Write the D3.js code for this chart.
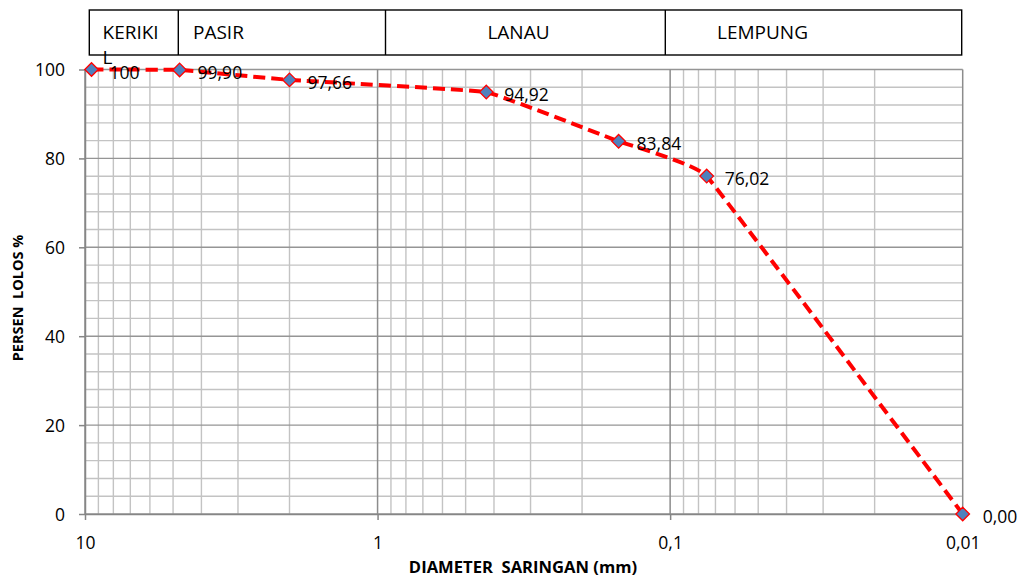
<!DOCTYPE html>
<html>
<head>
<meta charset="utf-8">
<script src="https://cdn.jsdelivr.net/npm/d3@7"></script>
<style>
  html, body { margin: 0; padding: 0; background: #ffffff; }
  svg { display: block; font-family: "Open Sans", "Noto Sans", sans-serif; }
</style>
</head>
<body>
<svg id="chart" width="1021" height="577"></svg>
<script>
// ---- data ----
const diameters = [9.5, 4.75, 2.0, 0.425, 0.15, 0.075, 0.01];
const percents  = [100, 99.90, 97.66, 94.92, 83.84, 76.02, 0.00];
const pointLabels = ["100", "99,90", "97,66", "94,92", "83,84", "76,02", "0,00"];
const xTickValues = [10, 1, 0.1, 0.01];
const xTickLabels = ["10", "1", "0,1", "0,01"];
const yTickValues = [0, 20, 40, 60, 80, 100];
const soilZones = ["KERIKI", "PASIR", "LANAU", "LEMPUNG"];

// ---- layout ----
const svg = d3.select("#chart");
const pLeft = 85, pRight = 962.7, pTop = 69.5, pBottom = 514;
const x = d3.scaleLog().domain([10, 0.01]).range([pLeft, pRight]);
const y = d3.scaleLinear().domain([0, 100]).range([pBottom, pTop]);

// ---- grid ----
const grid = svg.append("g");
d3.range(0, 101, 4).filter(v => v % 20 !== 0).forEach(v => {
  grid.append("line")
    .attr("x1", pLeft).attr("x2", pRight)
    .attr("y1", y(v)).attr("y2", y(v))
    .attr("stroke", "#c3c3c3").attr("stroke-width", 1.4);
});
x.ticks().forEach(v => {
  const major = Math.abs(Math.log10(v) - Math.round(Math.log10(v))) < 1e-9;
  if (major) return;
  grid.append("line")
    .attr("x1", x(v)).attr("x2", x(v))
    .attr("y1", pTop).attr("y2", pBottom)
    .attr("stroke", "#c3c3c3").attr("stroke-width", 1.4);
});
yTickValues.forEach(v => {
  grid.append("line")
    .attr("x1", pLeft).attr("x2", pRight)
    .attr("y1", y(v)).attr("y2", y(v))
    .attr("stroke", "#959595").attr("stroke-width", 1.4);
});
xTickValues.forEach(v => {
  grid.append("line")
    .attr("x1", x(v)).attr("x2", x(v))
    .attr("y1", pTop).attr("y2", pBottom)
    .attr("stroke", "#8c8c8c").attr("stroke-width", 1.5);
});

// ---- axes ----
const xAxis = svg.append("g")
  .attr("transform", `translate(0,${pBottom})`)
  .call(d3.axisBottom(x).tickValues(xTickValues)
    .tickFormat((d, i) => xTickLabels[i]).tickSize(6).tickSizeOuter(0));
xAxis.select(".domain").attr("stroke", "#868686").attr("stroke-width", 1.5);
xAxis.selectAll(".tick line").attr("stroke", "#868686").attr("stroke-width", 1.5);
xAxis.selectAll(".tick text")
  .attr("y", 35).attr("dy", null)
  .attr("font-family", "Open Sans").attr("font-size", 17.5).attr("fill", "#000");

const yAxis = svg.append("g")
  .attr("transform", `translate(${pLeft},0)`)
  .call(d3.axisLeft(y).tickValues(yTickValues).tickSize(6).tickSizeOuter(0));
yAxis.select(".domain").attr("stroke", "#868686").attr("stroke-width", 1.5);
yAxis.selectAll(".tick line").attr("stroke", "#868686").attr("stroke-width", 1.5);
yAxis.selectAll(".tick text")
  .attr("x", -20).attr("dy", "0.35em")
  .attr("font-family", "Open Sans").attr("font-size", 17.5).attr("fill", "#000");

// ---- axis titles ----
svg.append("text")
  .attr("x", 523).attr("y", 573)
  .attr("text-anchor", "middle")
  .attr("font-weight", "bold").attr("font-size", 16.6)
  .attr("xml:space", "preserve")
  .text("DIAMETER  SARINGAN (mm)");
svg.append("text")
  .attr("transform", "translate(23,298) rotate(-90)")
  .attr("text-anchor", "middle")
  .attr("font-weight", "bold").attr("font-size", 14.5)
  .attr("xml:space", "preserve")
  .text("PERSEN  LOLOS %");

// ---- header table ----
const hTop = 10, hBot = 55;
const hx = [89.3, 178.3, 385.5, 665.3, 961.7];
const head = svg.append("g");
head.append("rect")
  .attr("x", hx[0]).attr("y", hTop)
  .attr("width", hx[4] - hx[0]).attr("height", hBot - hTop)
  .attr("fill", "none").attr("stroke", "#000").attr("stroke-width", 1.4);
[1, 2, 3].forEach(i => {
  head.append("line")
    .attr("x1", hx[i]).attr("x2", hx[i])
    .attr("y1", hTop).attr("y2", hBot)
    .attr("stroke", "#000").attr("stroke-width", 1.4);
});
const hText = (t, xx, yy, anchor) => head.append("text")
  .attr("x", xx).attr("y", yy).attr("text-anchor", anchor)
  .attr("font-size", 19).attr("fill", "#000").text(t);
hText(soilZones[0], 102.5, 38.5, "start");
hText("L", 102.5, 64, "start");
hText(soilZones[1], 193, 38.5, "start");
hText(soilZones[2], 518.5, 38.5, "middle");
hText(soilZones[3], 762.5, 38.5, "middle");

// ---- curve ----
const pts = diameters.map((d, i) => [x(d), y(percents[i])]);
svg.append("path")
  .attr("d", d3.line().curve(d3.curveCardinal.tension(0.8))(pts))
  .attr("fill", "none")
  .attr("stroke", "#ff0000").attr("stroke-width", 4)
  .attr("stroke-dasharray", "12,6");

// ---- markers ----
const r = 6.8;
svg.append("g").selectAll("path")
  .data(pts).join("path")
  .attr("transform", d => `translate(${d[0]},${d[1]})`)
  .attr("d", `M0,${-r}L${r},0L0,${r}L${-r},0Z`)
  .attr("fill", "#4f81bd").attr("stroke", "#ff0000").attr("stroke-width", 1.3);

// ---- data labels ----
svg.append("g").selectAll("text")
  .data(pts).join("text")
  .attr("x", (d, i) => d[0] + (i === pts.length - 1 ? 20 : 18))
  .attr("y", d => d[1] + 3)
  .attr("dy", "0.35em")
  .attr("font-size", 17.5).attr("fill", "#000")
  .text((d, i) => pointLabels[i]);
</script>
</body>
</html>
